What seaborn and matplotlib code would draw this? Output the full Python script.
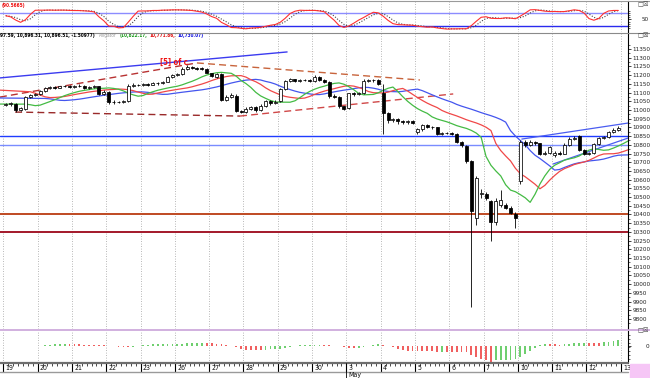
import numpy as np
import pandas as pd
import seaborn as sns
import matplotlib.pyplot as plt
from matplotlib import font_manager
from matplotlib.font_manager import FontProperties
from matplotlib.lines import Line2D
from matplotlib.patches import Rectangle

# ---------------------------------------------------------------------------
# data: hourly bars, 7 a day, 19 Apr - 12 May
# ---------------------------------------------------------------------------
day_labels = ["19", "20", "21", "22", "23", "26", "27", "28", "29", "30",
              "3", "4", "5", "6", "7", "10", "11", "12", "13"]

opens = [11028, 11035, 11036, 11000, 11005, 11075, 11085,
         11092, 11110, 11125, 11130, 11128, 11135, 11138,
         11130, 11136, 11140, 11127, 11132, 11136, 11092,
         11105, 11045, 11048, 11044, 11050, 11140, 11145,
         11142, 11148, 11146, 11155, 11152, 11160, 11190,
         11201, 11205, 11235, 11245, 11240, 11238, 11236,
         11210, 11192, 11205, 11060, 11075, 11080, 10995,
         10991, 11005, 11015, 11000, 11025, 11050, 11040,
         11050, 11118, 11165, 11175, 11168, 11172, 11170,
         11167, 11190, 11172, 11160, 11078, 11075, 11020,
         11010, 11095, 11090, 11098, 11168, 11172, 11170,
         11100, 10985, 10940, 10948, 10935, 10930, 10938,
         10875, 10888, 10912, 10902, 10900, 10862, 10868,
         10868, 10862, 10815, 10795, 10705, 10380, 10520,
         10520, 10480, 10355, 10455, 10455, 10440, 10405,
         10590, 10815, 10800, 10815, 10808, 10750, 10755,
         10740, 10755, 10750, 10800, 10835, 10850, 10770,
         10748, 10752, 10805, 10838, 10845, 10875, 10885]

closes = [11035, 11036, 11000, 11010, 11075, 11085, 11092,
          11110, 11125, 11130, 11128, 11135, 11138, 11130,
          11136, 11140, 11127, 11132, 11136, 11090, 11105,
          11045, 11048, 11044, 11050, 11140, 11145, 11142,
          11148, 11146, 11155, 11152, 11160, 11190, 11201,
          11205, 11235, 11245, 11240, 11238, 11236, 11215,
          11195, 11208, 11060, 11075, 11085, 10995, 10991,
          11005, 11015, 11000, 11025, 11050, 11040, 11045,
          11118, 11165, 11175, 11168, 11172, 11170, 11167,
          11190, 11172, 11160, 11078, 11075, 11020, 11008,
          11095, 11090, 11098, 11168, 11172, 11170, 11151,
          10985, 10940, 10948, 10935, 10930, 10938, 10926,
          10888, 10912, 10902, 10900, 10862, 10868, 10868,
          10862, 10815, 10800, 10705, 10420, 10610, 10520,
          10495, 10355, 10480, 10485, 10440, 10410, 10380,
          10815, 10800, 10815, 10808, 10750, 10755, 10785,
          10755, 10750, 10800, 10835, 10838, 10770, 10748,
          10752, 10805, 10838, 10845, 10875, 10885, 10896]

highs = [11042, 11048, 11040, 11015, 11080, 11090, 11098,
         11115, 11132, 11136, 11137, 11140, 11145, 11142,
         11142, 11148, 11143, 11136, 11142, 11140, 11112,
         11108, 11056, 11054, 11058, 11150, 11155, 11150,
         11156, 11152, 11160, 11160, 11165, 11195, 11206,
         11212, 11245, 11258, 11252, 11246, 11244, 11240,
         11215, 11214, 11210, 11085, 11095, 11090, 11000,
         11015, 11025, 11020, 11032, 11058, 11060, 11055,
         11125, 11172, 11182, 11180, 11178, 11176, 11175,
         11200, 11195, 11178, 11165, 11090, 11080, 11025,
         11100, 11102, 11105, 11175, 11180, 11178, 11175,
         11150, 10990, 10955, 10952, 10942, 10945, 10944,
         10895, 10920, 10918, 10908, 10904, 10875, 10876,
         10872, 10866, 10822, 10800, 10712, 10620, 10545,
         10530, 10485, 10495, 10540, 10465, 10446, 10412,
         10830, 10830, 10825, 10822, 10812, 10765, 10795,
         10765, 10762, 10808, 10842, 10848, 10855, 10775,
         10760, 10812, 10845, 10852, 10882, 10895, 10910]

lows = [11020, 11022, 10990, 10992, 11000, 11068, 11080,
        11088, 11105, 11120, 11122, 11124, 11130, 11126,
        11125, 11132, 11122, 11120, 11128, 11085, 11086,
        11035, 11036, 11038, 11040, 11046, 11132, 11136,
        11138, 11140, 11142, 11146, 11148, 11158, 11186,
        11196, 11202, 11230, 11234, 11230, 11228, 11210,
        11188, 11186, 11050, 11052, 11068, 10990, 10980,
        10980, 10998, 10990, 10995, 11018, 11030, 11032,
        11045, 11112, 11158, 11160, 11162, 11164, 11158,
        11162, 11165, 11155, 11070, 11066, 11012, 11000,
        11005, 11082, 11085, 11094, 11162, 11163, 11145,
        10860, 10925, 10930, 10922, 10920, 10922, 10918,
        10862, 10882, 10896, 10892, 10855, 10855, 10860,
        10855, 10808, 10790, 10695, 9870, 10340, 10495,
        10485, 10250, 10340, 10445, 10430, 10400, 10320,
        10575, 10790, 10792, 10798, 10740, 10742, 10750,
        10730, 10740, 10745, 10795, 10828, 10762, 10740,
        10740, 10748, 10800, 10832, 10840, 10870, 10880]

# alligator values just before the first bar (lips, teeth, jaw)
lips_start, teeth_start, jaw_start = 11034, 11115, 11069

# support / resistance levels
blue_levels = [10850, 10800]
red_levels = [10400, 10300]

# hand drawn lines: (bar index pair, price pair)
trend_blue = ([-1.2, 57.4], [11184, 11333])
wedge_a = ([-1.2, 39.0], [11074, 11270])
wedge_b = ([39.0, 84.5], [11270, 11172])
wedge_c = ([1.9, 47.8], [10988, 10965])
wedge_d = ([47.8, 91.3], [10965, 11092])
channel_top = ([105.3, 127.0], [10833, 10925])
channel_bot = ([111.7, 127.0], [10690, 10839])

header_values = "97.59, 10,896.31, 10,896.51, -1.50977)"
alligator_values = ["(10,822.17,", "10,771.86,", "10,730.07)"]
stoch_value = "(90.5665)"

# ---------------------------------------------------------------------------
df = pd.DataFrame({"o": opens, "h": highs, "l": lows, "c": closes})
df["i"] = np.arange(len(df))
med = (df["h"] + df["l"]) / 2


def smma(values, n, start):
    out, s = [], start
    for v in values:
        s = (s * (n - 1) + v) / n
        out.append(s)
    return np.array(out)


ll = df["l"].rolling(14, min_periods=1).min()
hh = df["h"].rolling(14, min_periods=1).max()
stoch_k = (100 * (df["c"] - ll) / (hh - ll)).rolling(3, min_periods=1).mean()
stoch_d = stoch_k.rolling(3, min_periods=1).mean()
ao = med.rolling(5, min_periods=1).mean() - med.rolling(34, min_periods=1).mean()

sns.set_theme(style="white")
plt.rcParams["font.family"] = ["Liberation Sans", "DejaVu Sans"]


# a narrow face for the small labels, if one is installed
def pick_font(bold=False):
    want = (700, "bold") if bold else (400, "normal", "regular")
    best = None
    for f in font_manager.fontManager.ttflist:
        narrow = ("Narrow" in f.name or "Condensed" in f.name
                  or f.stretch in ("condensed", "semi-condensed"))
        if narrow and f.style == "normal" and f.weight in want:
            rank = 0 if "Liberation" in f.name else 1
            if best is None or rank < best[0]:
                best = (rank, f.fname)
    return best[1] if best else None


reg_path, bold_path = pick_font(False), pick_font(True)


def fp(size, bold=False):
    path = bold_path if (bold and bold_path) else reg_path
    if path:
        return FontProperties(fname=path, size=size)
    return FontProperties(family="Liberation Sans", size=size,
                          weight="bold" if bold else "normal")


W, H = 650, 378
fig = plt.figure(figsize=(6.5, 3.78), dpi=100)
fig.patch.set_facecolor("white")
renderer = fig.canvas.get_renderer()


def fit_size(text, width_px, bold=False):
    t = fig.text(0, 0, text, fontproperties=fp(10, bold))
    w = t.get_window_extent(renderer).width
    t.remove()
    return 10 * width_px / w


tick_size = min(fit_size("11350", 17.0), 5.6)
head_size = min(fit_size(header_values, 94, True), 5.2)
label_size = 5.0


def px_axes(x0, y0, x1, y1):
    a = fig.add_axes([x0 / W, 1 - y1 / H, (x1 - x0) / W, (y1 - y0) / H])
    a.set_facecolor("white")
    for s in ["top", "left", "bottom"]:
        a.spines[s].set_visible(False)
    a.spines["right"].set_color("black")
    a.spines["right"].set_linewidth(0.8)
    return a


def fig_line(x0, x1, y, color, lw):
    fig.add_artist(Line2D([x0 / W, x1 / W], [1 - y / H, 1 - y / H],
                          color=color, lw=lw, transform=fig.transFigure))


ax_st = px_axes(0, 1, 628, 32)
ax = px_axes(0, 33, 628, 329)
ax_ao = px_axes(0, 331, 628, 363)
ax_dt = px_axes(0, 363, 628, 372)
ax_dt.spines["right"].set_visible(False)

xmin, xmax = -1.19, 126.97
day_ticks = np.arange(len(day_labels)) * 7 - 0.5
grid_style = dict(colors="#a0a0a0", linestyles=(0, (1, 2)), lw=0.6, zorder=0)

for a in (ax_st, ax, ax_ao, ax_dt):
    a.set_xlim(xmin, xmax)
    a.set_xticks([])
    a.yaxis.tick_right()
    a.tick_params(axis="y", length=2, width=0.6, pad=1.2,
                  colors="#222222", which="major")
    a.tick_params(axis="y", length=1.2, width=0.5, which="minor")

# ---- main price panel ----
ax.set_ylim(9742.7, 11441.8)
ax.vlines(day_ticks, 9742.7, 11441.8, **grid_style)

for lv, col in zip(blue_levels, ["#1f3cff", "#7a8cff"]):
    ax.axhline(lv, color=col, lw=1.0, zorder=1)
for lv, col in zip(red_levels, ["#bf4a22", "#a3182a"]):
    ax.axhline(lv, color=col, lw=1.4, zorder=1)

ax.plot(*trend_blue, color="#3b3bf0", lw=1.0, zorder=2)
for (xs, ys), col in zip([wedge_a, wedge_b, wedge_c, wedge_d],
                         ["#b83232", "#c8643c", "#9a2a2a", "#d04848"]):
    ax.plot(xs, ys, color=col, lw=1.0, ls=(0, (5, 3)), zorder=2)
ax.plot(*channel_top, color="#4a5cf0", lw=0.9, zorder=2)
ax.plot(*channel_bot, color="#4a5cf0", lw=0.9, zorder=2)

# alligator: jaw 13/8, teeth 8/5, lips 5/3
for period, shift, start, col in [(13, 8, jaw_start, "#4455ee"),
                                  (8, 5, teeth_start, "#f04848"),
                                  (5, 3, lips_start, "#44bb44")]:
    xs = np.r_[-2, df["i"].to_numpy() + shift]
    ys = np.r_[start, smma(med.to_numpy(), period, start)]
    sns.lineplot(x=xs, y=ys, ax=ax, color=col, linewidth=0.9,
                 estimator=None, sort=False, zorder=3)

# candles
up = df["c"] >= df["o"]
body_lo = df[["o", "c"]].min(axis=1)
body_h = (df["c"] - df["o"]).abs().clip(lower=2.5)
ax.vlines(df["i"], df["l"], df["h"], color="black", lw=0.6, zorder=4)
ax.bar(df["i"][up], body_h[up], bottom=body_lo[up], width=0.62,
       color="white", edgecolor="black", linewidth=0.55, zorder=5)
ax.bar(df["i"][~up], body_h[~up], bottom=body_lo[~up], width=0.62,
       color="black", edgecolor="black", linewidth=0.55, zorder=5)

ax.text(31.5, 11275, "[5] of c", color="#ee1111",
        fontproperties=fp(5.6, True), va="center", ha="left", zorder=7)

ax.set_yticks(np.arange(9800, 11351, 50))
ax.set_yticklabels([str(v) for v in range(9800, 11351, 50)])
ax.set_yticks(np.arange(9775, 11400, 50), minor=True)
ax.set(xlabel="", ylabel="")

# header line of the price panel
t0 = fig.text(0.5 / W, 1 - 35.5 / H, header_values,
              fontproperties=fp(head_size, True), color="black",
              va="center", ha="left")
prev = ax.annotate("Alligator", xy=(1, 0), xycoords=t0, xytext=(3, 0),
                   textcoords="offset points",
                   fontproperties=fp(head_size), color="#9a9a9a",
                   va="bottom", ha="left", annotation_clip=False)
for txt, col in zip(alligator_values, ["#1a9a1a", "#e01010", "#1010e0"]):
    prev = ax.annotate(txt, xy=(1, 0), xycoords=prev, xytext=(1.5, 0),
                       textcoords="offset points",
                       fontproperties=fp(head_size, True), color=col,
                       va="bottom", ha="left", annotation_clip=False)

# ---- stochastic panel ----
ax_st.set_ylim(-10.5, 139.5)
ax_st.vlines(day_ticks, -10.5, 139.5, **grid_style)
ax_st.axhline(80, color="#8c8cff", lw=1.0, zorder=1)
ax_st.axhline(20, color="#2a2aee", lw=1.0, zorder=1)
sns.lineplot(x=df["i"], y=stoch_d, ax=ax_st, color="#444444", linewidth=0.8,
             linestyle=(0, (1, 1.5)), estimator=None, zorder=2)
sns.lineplot(x=df["i"], y=stoch_k, ax=ax_st, color="#ff3030", linewidth=0.8,
             estimator=None, zorder=3)
ax_st.set_yticks([50])
ax_st.set_yticks([10, 20, 30, 40, 60, 70, 80, 90], minor=True)
ax_st.set(xlabel="", ylabel="")
ax_st.text(0.002, 0.93, stoch_value, transform=ax_st.transAxes,
           fontproperties=fp(head_size, True), color="#ee1111",
           va="top", ha="left")

# ---- awesome oscillator panel ----
lo = ao.min() * 1.06
span = -lo / ((363 - 346) / 32)
ax_ao.set_ylim(lo, lo + span)
ax_ao.vlines(day_ticks, lo, lo + span, **grid_style)
rising = ao.diff().fillna(0) >= 0
ax_ao.bar(df["i"][rising], ao[rising], width=0.38, color="#6fcf6f",
          linewidth=0, zorder=2)
ax_ao.bar(df["i"][~rising], ao[~rising], width=0.38, color="#f06060",
          linewidth=0, zorder=2)
ax_ao.set_yticks([0])
step = span / 8
ax_ao.set_yticks(np.arange(lo + step, lo + span, step), minor=True)
ax_ao.set(xlabel="", ylabel="")

for a in (ax_st, ax, ax_ao):
    for lab in a.get_yticklabels():
        lab.set_fontproperties(fp(tick_size + 0.3))
ax_st.tick_params(axis="y", pad=7.5)
ax_ao.tick_params(axis="y", pad=10.5)

# ---- date strip ----
ax_dt.set_ylim(0, 1)
ax_dt.set_yticks([])
ax_dt.vlines(day_ticks, 0, 1, color="black", lw=0.8)
ax_dt.vlines(df["i"] + 0.5, 0.62, 1, color="black", lw=0.5)
for x, lab in zip(day_ticks, day_labels):
    ax_dt.text(x + 0.45, 0.42, lab, fontproperties=fp(label_size),
               va="center", ha="left", color="#111111")

# frame lines, month marker and window decorations
fig_line(0, 650, 0.5, "#9a9a9a", 0.8)
fig_line(0, 650, 32.5, "#8a8a8a", 0.8)
fig_line(0, 650, 330, "#c9a3d9", 1.2)
fig_line(0, 628, 363.2, "#6e6e6e", 1.6)
fig_line(0, 628, 372.2, "#9a9a9a", 1.0)
may_x = 3.4 + 10 * 34.3
fig.add_artist(Line2D([may_x / W] * 2, [1 - 363 / H, 0], color="black",
                      lw=0.6, transform=fig.transFigure))
fig.text((may_x + 1.5) / W, 1 - 375.2 / H, "May",
         fontproperties=fp(label_size), va="center", ha="left",
         color="#111111")
fig.add_artist(Rectangle((630 / W, 0), 20 / W, 14 / H, color="#f6c6f6",
                         transform=fig.transFigure))
for yy in (4, 35.5, 330.5):
    fig.text(637 / W, 1 - yy / H, "\u25a1\u2612", fontsize=4.5,
             family="DejaVu Sans", color="#444444", va="center", ha="left")

fig.savefig("out.png", dpi=100, facecolor="white")
